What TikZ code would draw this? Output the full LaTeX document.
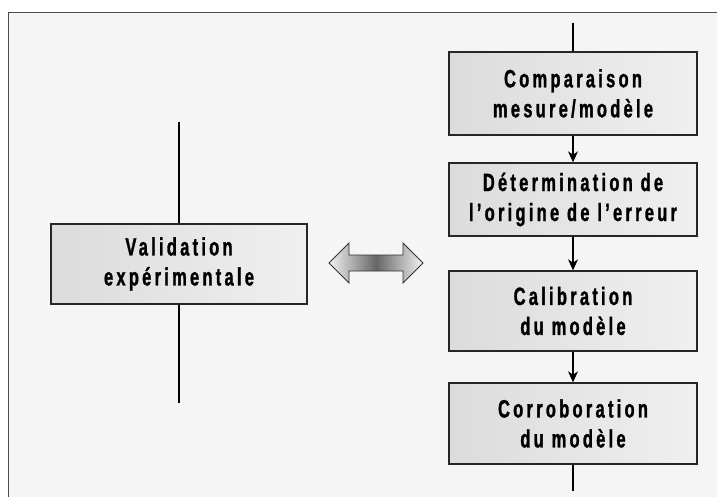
\documentclass[tikz,border=0pt]{standalone}
\usepackage{fontspec}
\setmainfont{Liberation Sans}[BoldFeatures={FakeStretch=0.66,LetterSpace=13,FakeBold=1.2}]
\usetikzlibrary{arrows.meta}
\begin{document}
\begin{tikzpicture}[x=1pt,y=-1pt,
  box/.style={draw=black!85, line width=1.4pt, left color=black!14, right color=black!6,
    minimum width=248pt, align=center, inner sep=0pt,
    font=\fontsize{25}{30}\selectfont\bfseries},
  link/.style={draw=black, line width=1.1pt},
  arr/.style={link, -{Stealth[length=11pt,width=10pt,inset=3.5pt]}}]
\useasboundingbox (0,0) rectangle (717,497);
\fill[white] (0,0) rectangle (717,497);
\draw[fill=black!4, draw=black!70, line width=1pt] (725,505) -- (8,505) -- (8,13) -- (725,13);
% right column
\node[box, minimum height=83pt] (b1) at (573,93.5) {Comparaison\\mesure/modèle};
\node[box, minimum height=73pt] (b2) at (573,199.5) {Détermination de\\l’origine de l’erreur};
\node[box, minimum height=80pt] (b3) at (573,311) {Calibration\\du modèle};
\node[box, minimum height=81pt] (b4) at (573,423.5) {Corroboration\\du modèle};
\coordinate (t1) at (573,23);
\coordinate (t2) at (573,491);
\draw[link] (t1) -- (b1.north);
\draw[arr] (b1.south) -- (b2.north);
\draw[arr] (b2.south) -- (b3.north);
\draw[arr] (b3.south) -- (b4.north);
\draw[link] (b4.south) -- (t2);
% left
\node[box, minimum width=256pt, minimum height=80pt] (v) at (179,264) {Validation\\expérimentale};
\coordinate (l1) at (179,122);
\coordinate (l2) at (179,403);
\draw[link] (l1) -- (v.north);
\draw[link] (v.south) -- (l2);
% double arrow
\shade[left color=black!5, right color=black!5, middle color=black!60]
  (329,263) -- (349,243) -- (349,255) -- (403,255) -- (403,243) -- (423,263)
  -- (403,283) -- (403,271) -- (349,271) -- (349,283) -- cycle;
\draw[black!80, line width=0.8pt]
  (329,263) -- (349,243) -- (349,255) -- (403,255) -- (403,243) -- (423,263)
  -- (403,283) -- (403,271) -- (349,271) -- (349,283) -- cycle;
\end{tikzpicture}
\end{document}
